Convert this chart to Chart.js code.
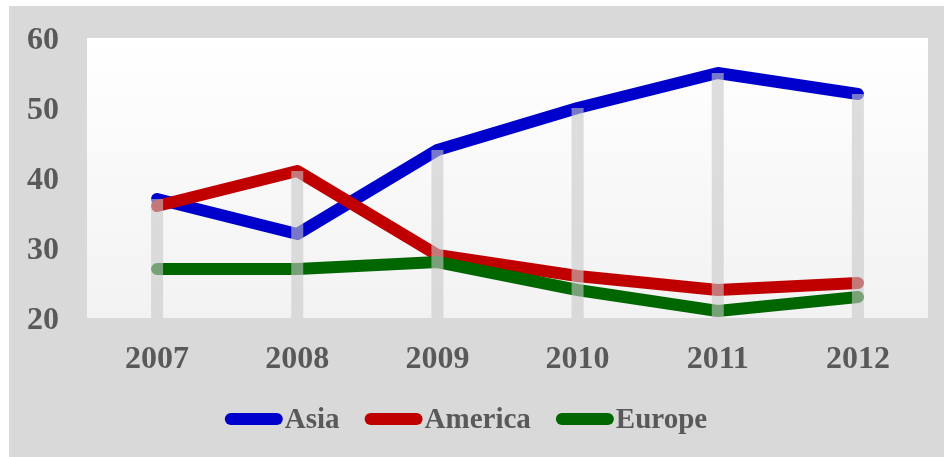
<!DOCTYPE html>
<html>
<head>
<meta charset="utf-8">
<script src="https://cdn.jsdelivr.net/npm/chart.js@4.4.1/dist/chart.umd.min.js"></script>
<style>
  html, body { margin: 0; padding: 0; background: #ffffff; }
  #wrap { position: absolute; left: 9px; top: 6px; width: 935px; height: 451px; background: #d9d9d9; }
</style>
</head>
<body>
<div id="wrap"><canvas id="mycanvas" width="935" height="451"></canvas></div>
<script>
var years = ['2007', '2008', '2009', '2010', '2011', '2012'];
var asia = [37, 32, 44, 50, 55, 52];
var america = [36, 41, 29, 26, 24, 25];
var europe = [27, 27, 28, 24, 21, 23];
var yTicks = [20, 30, 40, 50, 60];

var textColor = '#595959';
var fontFamily = "'Liberation Serif', 'Times New Roman', serif";
var font = { family: fontFamily, size: 32, weight: 'bold' };

// plot area gradient
var plotBg = {
	id: 'plotBg',
	beforeDraw: function(chart) {
		var a = chart.chartArea, ctx = chart.ctx;
		var g = ctx.createLinearGradient(0, a.top, 0, a.bottom);
		g.addColorStop(0, '#ffffff');
		g.addColorStop(1, '#f2f2f2');
		ctx.save();
		ctx.fillStyle = g;
		ctx.fillRect(a.left, a.top, a.right - a.left, a.bottom - a.top);
		ctx.restore();
	}
};

// drop lines from the highest point down to the axis
var dropLines = {
	id: 'dropLines',
	afterDatasetsDraw: function(chart) {
		var ctx = chart.ctx, a = chart.chartArea;
		var xs = chart.scales.x, ys = chart.scales.y;
		ctx.save();
		ctx.strokeStyle = 'rgba(200,200,200,0.6)';
		ctx.lineWidth = 12;
		ctx.lineCap = 'butt';
		for (var i = 0; i < years.length; i++) {
			var top = Math.max.apply(null, chart.data.datasets.map(function(d) { return d.data[i]; }));
			var x = xs.getPixelForValue(i);
			ctx.beginPath();
			ctx.moveTo(x, ys.getPixelForValue(top));
			ctx.lineTo(x, a.bottom);
			ctx.stroke();
		}
		ctx.restore();
	}
};

// legend with a short thick line and the name right next to it
var lineLegend = {
	id: 'lineLegend',
	afterDraw: function(chart) {
		var ctx = chart.ctx;
		var sets = chart.data.datasets;
		var mw = 58, mh = 12, gap = 2, between = 25;
		ctx.save();
		ctx.font = 'bold 29px ' + fontFamily;
		var total = 0;
		sets.forEach(function(d, i) {
			total += mw + gap + ctx.measureText(d.label).width;
			if (i < sets.length - 1) total += between;
		});
		var x = 457 - total / 2, y = 413;
		ctx.textBaseline = 'middle';
		sets.forEach(function(d) {
			ctx.fillStyle = d.borderColor;
			ctx.beginPath();
			ctx.roundRect(x, y - mh / 2, mw, mh, mh / 2);
			ctx.fill();
			x += mw + gap;
			ctx.fillStyle = textColor;
			ctx.fillText(d.label, x, y + 2);
			x += ctx.measureText(d.label).width + between;
		});
		ctx.restore();
	}
};

function series(label, data, color, order) {
	return {
		label: label,
		data: data,
		borderColor: color,
		backgroundColor: color,
		borderWidth: 12,
		borderCapStyle: 'round',
		borderJoinStyle: 'round',
		pointRadius: 0,
		tension: 0,
		order: order
	};
}

var ctx = document.getElementById('mycanvas');
var chart = new Chart(ctx, {
	type: 'line',
	data: {
		labels: years,
		datasets: [
			series('Asia', asia, '#0000cc', 3),
			series('America', america, '#c00000', 2),
			series('Europe', europe, '#006600', 1)
		]
	},
	options: {
		responsive: false,
		animation: false,
		layout: { padding: { top: 32, right: 16, left: 0, bottom: 0 } },
		plugins: { legend: { display: false }, tooltip: { enabled: false } },
		scales: {
			x: {
				offset: true,
				grid: { display: false, drawTicks: false },
				border: { display: false },
				ticks: { color: textColor, font: font, padding: 23, maxRotation: 0 },
				afterFit: function(s) { s.height = 139; s.paddingLeft = 0; s.paddingRight = 0; }
			},
			y: {
				min: 20,
				max: 60,
				afterBuildTicks: function(s) { s.ticks = yTicks.map(function(v) { return { value: v }; }); },
				grid: { display: false, drawTicks: false },
				border: { display: false },
				ticks: { color: textColor, font: font, padding: 28, labelOffset: 3 },
				afterFit: function(s) { s.width = 78; s.paddingTop = 0; s.paddingBottom = 0; }
			}
		}
	},
	plugins: [plotBg, dropLines, lineLegend]
});
</script>
</body>
</html>
